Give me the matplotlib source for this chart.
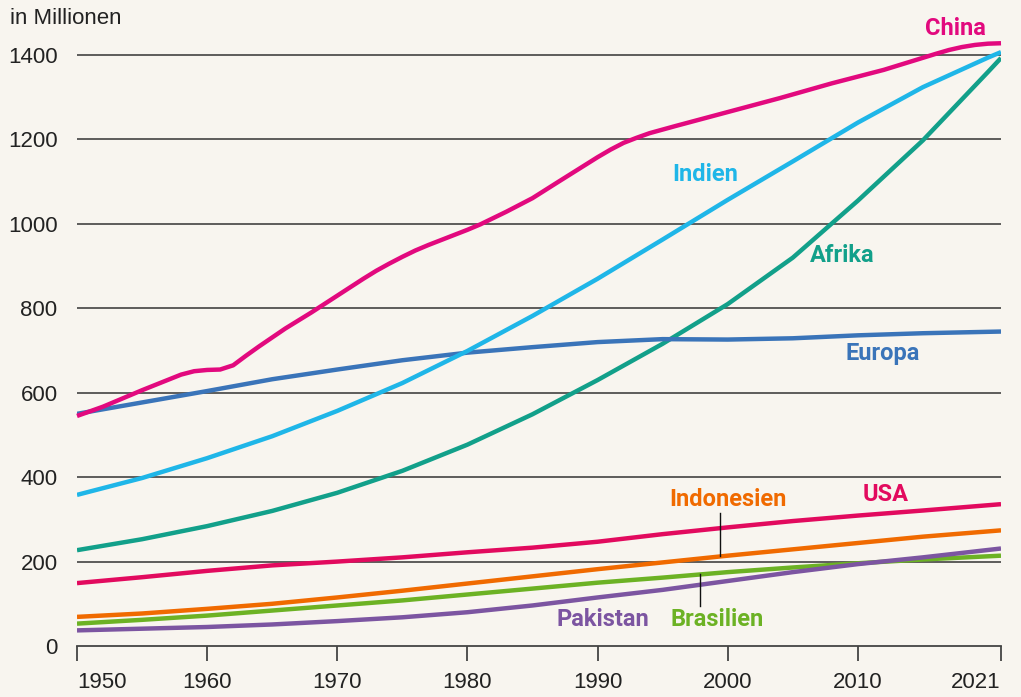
import numpy as np
import matplotlib.pyplot as plt

# Bevoelkerung in Millionen
years5 = [1950, 1955, 1960, 1965, 1970, 1975, 1980, 1985, 1990, 1995, 2000, 2005, 2010, 2015, 2021]

china_years = [1950, 1952, 1955, 1958, 1959, 1960, 1961, 1962, 1963, 1964, 1966, 1968, 1970, 1971,
               1972, 1973, 1974, 1975, 1976, 1977, 1978, 1979, 1980, 1981, 1983, 1985, 1987, 1990,
               1991, 1992, 1993, 1994, 1996, 2000, 2004, 2008, 2010, 2012, 2014, 2016, 2017, 2018,
               2019, 2020, 2021]
china = [545, 567, 606, 643, 651, 654, 655, 665, 688, 710, 752, 790, 830, 850,
         870, 889, 906, 922, 937, 950, 962, 974, 986, 999, 1029, 1061, 1100, 1158,
         1176, 1192, 1204, 1215, 1232, 1265, 1298, 1333, 1349, 1365, 1384, 1403, 1412, 1419,
         1424, 1427, 1428]

indien_years = [1950, 1955, 1960, 1965, 1970, 1975, 1980, 1985, 1990, 1995, 2000, 2005, 2010, 2015, 2020, 2021]
indien = [358, 398, 445, 497, 557, 623, 699, 782, 870, 963, 1057, 1148, 1240, 1324, 1394, 1407]

afrika_years = [1950, 1955, 1960, 1965, 1970, 1975, 1980, 1985, 1990, 1995, 2000, 2005, 2010, 2015, 2020, 2021]
afrika = [227, 253, 284, 320, 363, 415, 477, 549, 630, 716, 810, 920, 1055, 1198, 1360, 1393]

europa = [550, 577, 604, 632, 655, 677, 695, 708, 720, 727, 726, 729, 736, 741, 745]
usa = [149, 163, 178, 191, 200, 210, 222, 233, 247, 265, 281, 296, 309, 321, 336]
indonesien = [69, 77, 88, 100, 115, 131, 148, 165, 182, 198, 214, 229, 244, 259, 274]
brasilien = [53, 62, 72, 84, 96, 108, 122, 136, 150, 162, 175, 186, 196, 205, 214]
pakistan = [37, 41, 45, 51, 59, 68, 80, 96, 115, 133, 154, 175, 194, 210, 231]

yticks = [0, 200, 400, 600, 800, 1000, 1200, 1400]
xticks = [1950, 1960, 1970, 1980, 1990, 2000, 2010, 2021]

c_china = '#e2097e'
c_indien = '#1fb6e8'
c_afrika = '#12a08a'
c_europa = '#3a74b9'
c_usa = '#e20a5e'
c_indo = '#f06a00'
c_bras = '#6cb224'
c_pak = '#7c55a1'

bg = '#f8f5ef'
tickfont = ['Liberation Sans', 'DejaVu Sans']
labfont = ['Roboto', 'DejaVu Sans']

fig = plt.figure(figsize=(10.21, 6.97), dpi=100, facecolor=bg)
ax = fig.add_axes([77/1021, 51/697, 924/1021, 624.7/697])
ax.set_facecolor(bg)

lw = 3.2
st = dict(lw=lw, solid_capstyle='butt', solid_joinstyle='round', zorder=3)
ax.plot(years5, brasilien, color=c_bras, **st)
ax.plot(years5, pakistan, color=c_pak, **st)
ax.plot(years5, indonesien, color=c_indo, **st)
ax.plot(years5, usa, color=c_usa, **st)
ax.plot(afrika_years, afrika, color=c_afrika, **st)
ax.plot(years5, europa, color=c_europa, **st)
ax.plot(indien_years, indien, color=c_indien, **st)
ax.plot(china_years, china, color=c_china, clip_on=False, **st)

ax.set_xlim(1950, 2021)
ax.set_ylim(0, 1480)

for v in yticks[1:]:
    ax.axhline(v, color='#333333', lw=1.1, zorder=2)

for s in ['top', 'right', 'left']:
    ax.spines[s].set_visible(False)
ax.spines['bottom'].set_color('#444444')
ax.spines['bottom'].set_linewidth(1.3)

ax.set_yticks(yticks)
ax.set_yticklabels([str(v) for v in yticks], fontsize=16, family=tickfont, color='#222222')
ax.tick_params(axis='y', length=0, pad=14)

ax.set_xticks(xticks)
ax.set_xticklabels([str(v) for v in xticks], fontsize=16, family=tickfont, color='#222222')
ax.tick_params(axis='x', length=11, width=1.3, color='#444444', pad=8, direction='out')
xl = ax.get_xticklabels()
xl[0].set_ha('left')
xl[-1].set_ha('right')

fig.text(10/1021, 1 - 19/697, 'in Millionen', fontsize=16, family=tickfont,
         color='#222222', va='center', ha='left')

kw = dict(fontsize=17, fontweight='bold', family=labfont, ha='center', va='center')
ax.text(2017.5, 1462, 'China', color=c_china, clip_on=False, **kw)
ax.text(1998.3, 1116, 'Indien', color=c_indien, **kw)
ax.text(2008.8, 924, 'Afrika', color=c_afrika, **kw)
ax.text(2011.9, 692, 'Europa', color=c_europa, **kw)
ax.text(2012.1, 360, 'USA', color=c_usa, **kw)
ax.text(2000.0, 346, 'Indonesien', color=c_indo, **kw)
ax.text(1990.4, 62, 'Pakistan', color=c_pak, **kw)
ax.text(1999.2, 62, 'Brasilien', color=c_bras, **kw)

# Hinweislinien
xi = 1999.4
ax.plot([xi, xi], [315, np.interp(xi, years5, indonesien)], color='#111111', lw=1.0, zorder=4)
xb = 1997.9
ax.plot([xb, xb], [95, np.interp(xb, years5, brasilien)], color='#111111', lw=1.0, zorder=4)

fig.savefig('out.png', dpi=100, facecolor=bg)
